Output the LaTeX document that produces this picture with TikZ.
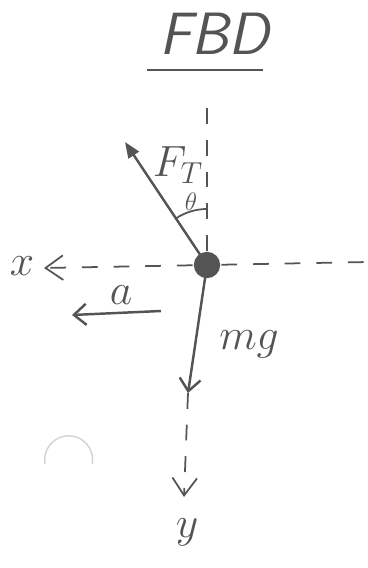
\documentclass[tikz,border=0pt]{standalone}
\usepackage{amsmath}
\usepackage{xcolor}
\usepackage{tikz}
\usetikzlibrary{arrows.meta, calc}

\definecolor{pencil}{gray}{0.33}

\begin{document}
\begin{tikzpicture}[x=0.02cm, y=-0.02cm, line width=1.4pt, draw=pencil,
  every node/.style={text=pencil, inner sep=0pt},
  axisline/.style={dashed, dash pattern=on 9pt off 9pt, line width=1pt},
  barb/.style={-{Straight Barb[length=7pt, width=12pt]}},
  bigbarb/.style={-{Straight Barb[length=10pt, width=14pt]}},
  ]
\useasboundingbox (0,0) rectangle (368,568);

\node (title) at (214,34) {\fontsize{34}{38}\sffamily\itshape FBD};
\draw (147,70) -- (263,70);

% point mass and axes
\node[circle, fill=pencil, minimum size=15pt] (m) at (207,265) {};
\coordinate (top) at (207,100);
\coordinate (right) at (368,262);
\coordinate (xend) at (44,268);
\coordinate (yend) at (184,497);
\coordinate (mgend) at (188,393);
\coordinate (ftend) at (125,142);

\draw[axisline] (m) -- (top);
\draw[axisline] (m) -- (right);
\draw[axisline, bigbarb] (m) -- (xend);
\draw[axisline, bigbarb] (mgend) -- (yend);
\node (x) at (22,266) {\fontsize{32}{32}\selectfont $x$};
\node (y) at (187,532) {\fontsize{42}{42}\selectfont $y$};

% forces
\draw[-{Triangle[length=9pt, width=7pt]}] (m.center) -- (ftend);
\draw[barb] (m.center) -- (mgend);
\node (ft) at (178,165) {\fontsize{23}{23}\selectfont $F_T$};
\node (mg) at (249,344) {\fontsize{34}{34}\selectfont $mg$};
\draw[line width=1pt] (m.center) ++(236:56) arc[start angle=236, end angle=271, radius=56];
\node (theta) at (191,202) {\fontsize{15}{15}\selectfont $\theta$};

% acceleration
\coordinate (astart) at (161,311);
\coordinate (aend) at (72,315);
\draw[barb] (astart) -- (aend);
\node (a) at (121,295) {\fontsize{27}{27}\selectfont $a$};

% faint mark
\draw[gray!35, line width=0.8pt] (45,464) arc[start angle=170, end angle=370, radius=24];
\end{tikzpicture}
\end{document}
